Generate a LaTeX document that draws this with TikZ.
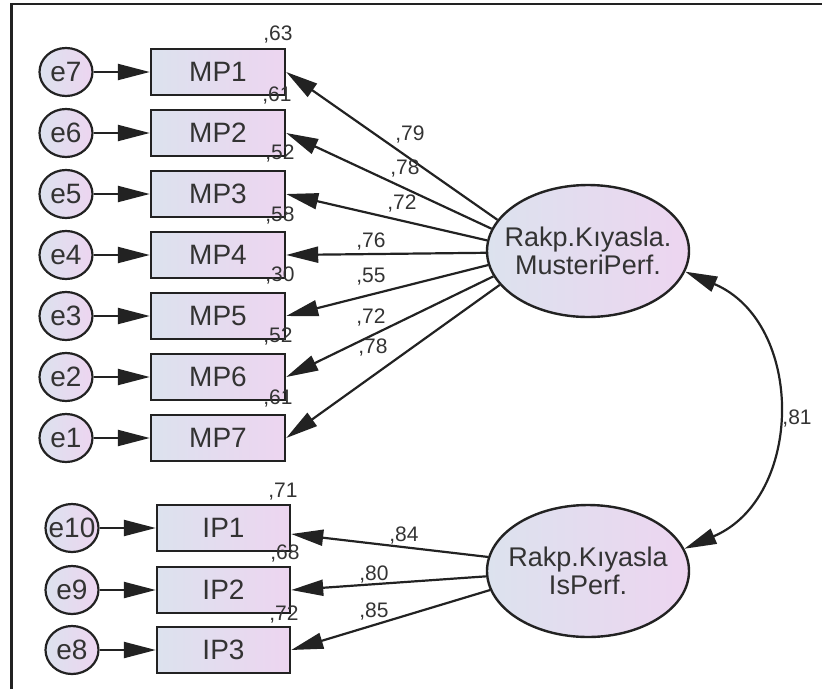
\documentclass[tikz,border=0pt]{standalone}
\usepackage{fontspec}
\setmainfont{Liberation Sans}
\usetikzlibrary{arrows.meta,shapes.geometric}

\definecolor{fillL}{RGB}{220,226,238}
\definecolor{fillR}{RGB}{237,213,240}
\definecolor{ink}{RGB}{34,34,34}
\definecolor{txt}{RGB}{51,51,51}

\tikzset{
  obs/.style={draw=ink, line width=2.4pt, rectangle, minimum width=134pt, minimum height=46pt,
    inner sep=0pt, left color=fillL, right color=fillR, text=txt,
    font=\fontsize{28}{30}\selectfont},
  err/.style={draw=ink, line width=2.2pt, ellipse, minimum width=53pt, minimum height=48pt,
    inner xsep=-8pt, inner ysep=0pt, left color=fillL, right color=fillR, text=txt,
    font=\fontsize{28}{30}\selectfont},
  lat/.style={draw=ink, line width=2.4pt, ellipse, minimum width=202pt, minimum height=132pt,
    inner xsep=-16pt, inner ysep=0pt, left color=fillL, right color=fillR, text=txt, align=center,
    font=\fontsize{27}{28}\selectfont},
  num/.style={anchor=base, inner sep=0pt, text=txt, font=\fontsize{21}{22}\selectfont},
  arr/.style={draw=ink, line width=2.2pt, -{Triangle[length=32pt,width=16pt]}},
  cov/.style={draw=ink, line width=2.2pt, {Triangle[length=32pt,width=16pt]}-{Triangle[length=32pt,width=16pt]}},
}

\begin{document}
\begin{tikzpicture}[x=1pt, y=-1pt]
\useasboundingbox (0,0) rectangle (822,689);

% frame lines along the top and left edges
\draw[line width=2.7pt, ink] (11.3,689) -- (11.3,4) -- (822,4);

% latent variables
\node[lat] (m) at (588,251) {Rakp.Kıyasla.\\MusteriPerf.};
\node[lat] (i) at (588,571) {Rakp.Kıyasla\\IsPerf.};

% customer performance indicators and their error terms
\foreach \k/\e/\y in {1/7/72, 2/6/133, 3/5/194, 4/4/255, 5/3/316, 6/2/377, 7/1/438}{
  \node[obs] (MP\k) at (218,\y) {MP\k};
  \node[err] (e\e) at (66,\y) {e\e};
  \draw[arr] (e\e) -- (MP\k);
}

% business performance indicators and their error terms
\foreach \k/\e/\y in {1/10/528, 2/9/590, 3/8/650}{
  \node[obs, minimum width=133pt] (IP\k) at (223.5,\y) {IP\k};
  \node[err] (e\e) at (72,\y) {e\e};
  \draw[arr] (e\e) -- (IP\k);
}

% factor loadings
\foreach \k/\a in {1/161, 2/167, 3/174, 4/181, 5/188, 6/195, 7/201}{
  \draw[arr] (m.\a) -- (MP\k.east);
}
\draw[arr] (i.172.5) -- ([yshift=-6pt]IP1.east);
\draw[arr] (i.183) -- (IP2.east);
\draw[arr] (i.191) -- (IP3.east);

% correlation between the latent variables
\draw[cov] (m.-12.5) .. controls +(120,51) and +(120,-51) .. (i.13);

% squared multiple correlations
\node[num] (r1) at (278,40.5) {,63};
\node[num] (r2) at (277,101.5) {,61};
\node[num] (r3) at (280,159.5) {,52};
\node[num] (r4) at (280,221.5) {,58};
\node[num] (r5) at (280,281.5) {,30};
\node[num] (r6) at (278,342.5) {,52};
\node[num] (r7) at (278,404.5) {,61};
\node[num] (s1) at (283,497.5) {,71};
\node[num] (s2) at (285,559.5) {,68};
\node[num] (s3) at (284,620.5) {,72};

% standardized loadings
\node[num] (l1) at (410,140.5) {,79};
\node[num] (l2) at (405,174.5) {,78};
\node[num] (l3) at (402,209.5) {,72};
\node[num] (l4) at (371,247.5) {,76};
\node[num] (l5) at (371,282.5) {,55};
\node[num] (l6) at (371,323.5) {,72};
\node[num] (l7) at (373,353.5) {,78};
\node[num] (k1) at (404,541) {,84};
\node[num] (k2) at (374,580.5) {,80};
\node[num] (k3) at (374,617.5) {,85};
\node[num] (c1) at (797,424.5) {,81};
\end{tikzpicture}
\end{document}
